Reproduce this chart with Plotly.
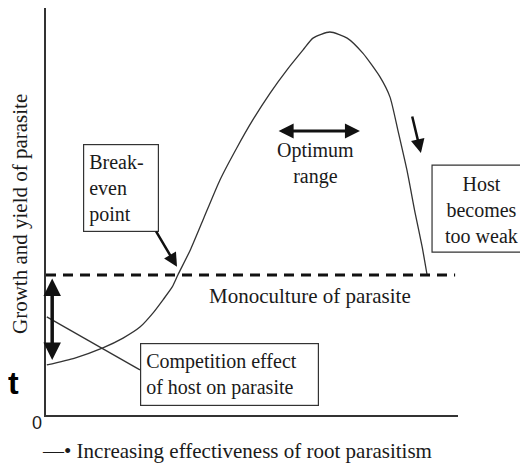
import plotly.graph_objects as go

# ---- data (arbitrary units: x = effectiveness of root parasitism, y = growth/yield) ----
curve_x = [0.02, 0.70, 1.38, 1.87, 2.28, 2.60, 2.84, 3.06, 3.20, 3.50, 3.81, 4.22,
           4.64, 5.02, 5.44, 5.85, 6.24, 6.48, 6.89, 7.31, 7.69, 8.11, 8.35, 8.54,
           8.76, 8.96, 9.13, 9.25]
curve_y = [1.23, 1.40, 1.65, 1.89, 2.16, 2.51, 2.83, 3.14, 3.44, 4.05, 4.79, 5.77,
           6.58, 7.25, 7.91, 8.48, 8.97, 9.26, 9.41, 9.26, 8.89, 8.30, 7.81, 7.00,
           6.02, 4.96, 4.13, 3.44]
monoculture_x = [0.0, 9.93]
monoculture_level = [3.44, 3.44]
competition_x = [0.02, 2.28]
competition_y = [2.41, 1.11]

y_title = "Growth and yield of parasite"
x_title = "—• Increasing effectiveness of root parasitism"
label_monoculture = "Monoculture of parasite"
label_optimum = "Optimum<br>range"
label_breakeven = "Break-<br>even<br>point"
label_competition = "Competition effect<br>of host on parasite"
label_host = "Host<br>becomes<br>too weak"

SERIF = "Liberation Serif"
SANS = "Liberation Sans"
INK = "#1a1a1a"
LINE = "#333333"

fig = go.Figure()
fig.add_trace(go.Scatter(x=curve_x, y=curve_y, mode="lines",
                         line=dict(color=LINE, width=1.3, shape="spline", smoothing=0.6),
                         hoverinfo="skip", showlegend=False))
fig.add_trace(go.Scatter(x=monoculture_x, y=monoculture_level, mode="lines",
                         line=dict(color="#111111", width=3, dash="10px,7px"),
                         hoverinfo="skip", showlegend=False))
fig.add_trace(go.Scatter(x=competition_x, y=competition_y, mode="lines",
                         line=dict(color=LINE, width=1.3),
                         hoverinfo="skip", showlegend=False))

# box for the "Host becomes too weak" label (runs off the right edge as in the original)
fig.add_shape(type="rect", xref="paper", yref="paper", x0=0.937, x1=1.25, y0=0.400, y1=0.614,
              line=dict(color=LINE, width=1.2), fillcolor="white", layer="above")

ann = []
# text labels
ann.append(dict(x=6.41, y=2.92, xref="x", yref="y", xanchor="center", yanchor="middle",
                text=label_monoculture, showarrow=False,
                font=dict(family=SERIF, size=21, color=INK)))
ann.append(dict(x=6.55, y=6.19, xref="x", yref="y", xanchor="center", yanchor="middle",
                text=label_optimum, showarrow=False,
                font=dict(family=SERIF, size=20, color=INK), align="center"))
ann.append(dict(x=1.058, y=0.504, xref="paper", yref="paper", xanchor="center",
                yanchor="middle", text=label_host, showarrow=False, align="center",
                font=dict(family=SERIF, size=20, color=INK)))
# boxed labels
ann.append(dict(x=0.90, y=6.66, xref="x", yref="y", xanchor="left", yanchor="top",
                text=label_breakeven, showarrow=False, align="left", valign="middle",
                width=64, height=76, borderpad=5, bordercolor=LINE, borderwidth=1.2,
                bgcolor="white", font=dict(family=SERIF, size=20, color=INK)))
ann.append(dict(x=2.28, y=1.77, xref="x", yref="y", xanchor="left", yanchor="top",
                text=label_competition, showarrow=False, align="left", valign="middle",
                width=167, height=51, borderpad=5, bordercolor=LINE, borderwidth=1.2,
                bgcolor="white", font=dict(family=SERIF, size=20, color=INK)))
# arrows
arrow_common = dict(xref="x", yref="y", axref="x", ayref="y", text="", showarrow=True,
                    arrowcolor="#111111", standoff=0, startstandoff=0)
ann.append(dict(x=3.18, y=3.64, ax=2.65, ay=4.55, arrowhead=2, arrowsize=1.1,
                arrowwidth=2.5, **arrow_common))
ann.append(dict(x=9.10, y=6.44, ax=8.88, ay=7.37, arrowhead=2, arrowsize=1.1,
                arrowwidth=2.5, **arrow_common))
ann.append(dict(x=7.62, y=6.98, ax=5.61, ay=6.98, arrowhead=2, startarrowhead=2,
                arrowside="end+start", arrowsize=1.0, startarrowsize=1.0,
                arrowwidth=3, **arrow_common))
ann.append(dict(x=0.15, y=1.35, ax=0.15, ay=3.39, arrowhead=2, startarrowhead=2,
                arrowside="end+start", arrowsize=1.0, startarrowsize=1.0,
                arrowwidth=3.5, **arrow_common))
# axis titles and marks
ann.append(dict(x=-0.063, y=0.494, xref="paper", yref="paper", xanchor="center",
                yanchor="middle", text=y_title, textangle=-90, showarrow=False,
                font=dict(family=SERIF, size=21, color=INK)))
ann.append(dict(x=-0.015, y=-0.088, xref="paper", yref="paper", xanchor="left",
                yanchor="middle", text=x_title, showarrow=False,
                font=dict(family=SERIF, size=21, color=INK)))
ann.append(dict(x=-0.022, y=-0.02, xref="paper", yref="paper", xanchor="center",
                yanchor="middle", text="0", showarrow=False,
                font=dict(family=SANS, size=18, color=INK)))
ann.append(dict(x=-0.078, y=0.079, xref="paper", yref="paper", xanchor="center",
                yanchor="middle", text="<b>t</b>", showarrow=False,
                font=dict(family=SANS, size=32, color="#000000")))

# page body has an 8px margin, so the figure is 8px smaller than the window
fig.update_layout(
    width=520, height=457,
    margin=dict(l=38, r=70, t=0, b=50),
    paper_bgcolor="white", plot_bgcolor="white",
    xaxis=dict(range=[0, 10], showline=True, linecolor=LINE, linewidth=1.8,
               showgrid=False, zeroline=False, showticklabels=False, ticks=""),
    yaxis=dict(range=[0, 10], showline=True, linecolor=LINE, linewidth=1.8,
               showgrid=False, zeroline=False, showticklabels=False, ticks=""),
    annotations=ann,
    showlegend=False,
)
fig.write_html("out.html")
